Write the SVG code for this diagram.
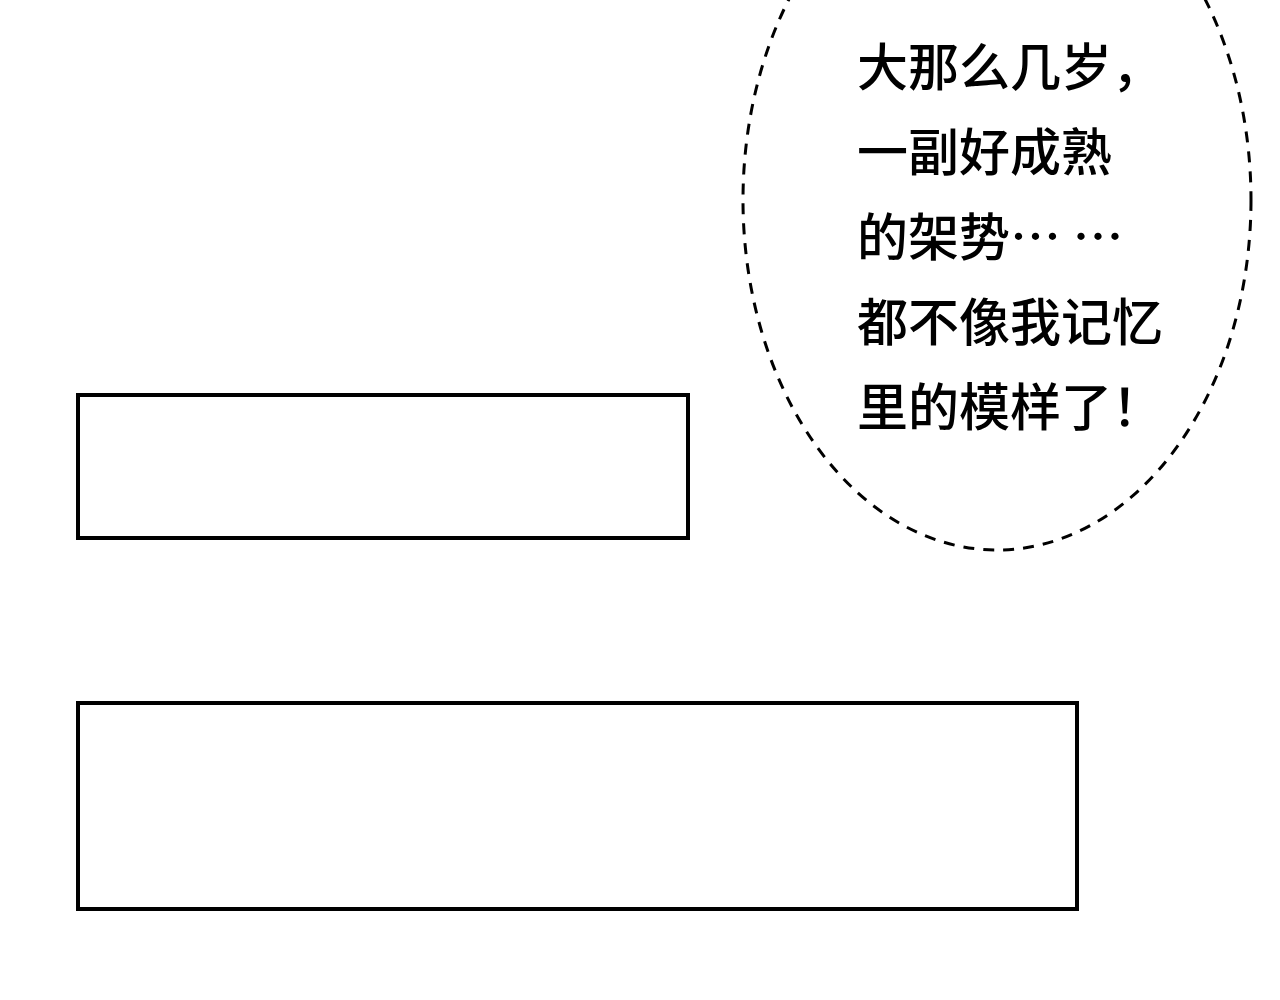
<svg xmlns="http://www.w3.org/2000/svg" width="1280" height="1000" viewBox="0 0 1280 1000">
<style>
.box{fill:#fff;stroke:#000;stroke-width:4}
.t{font-family:"Noto Sans CJK SC","Liberation Sans",sans-serif;font-size:51px;font-weight:500;fill:#000}
</style>
<rect width="1280" height="1000" fill="#fff"/>
<g id="bubble">
<ellipse cx="997" cy="200" rx="254" ry="350" fill="#fff" stroke="#000" stroke-width="3" stroke-dasharray="11,9"/>
<text class="t" x="857" y="86">大那么几岁，</text>
<text class="t" x="857" y="171">一副好成熟</text>
<text class="t" x="857" y="256">的架势… …</text>
<text class="t" x="857" y="341">都不像我记忆</text>
<text class="t" x="857" y="426">里的模样了！</text>
</g>
<g id="box1"><rect class="box" x="78" y="395" width="610" height="143"/></g>
<g id="box2"><rect class="box" x="78" y="703" width="999" height="206"/></g>
<g id="connectors"/>
</svg>
